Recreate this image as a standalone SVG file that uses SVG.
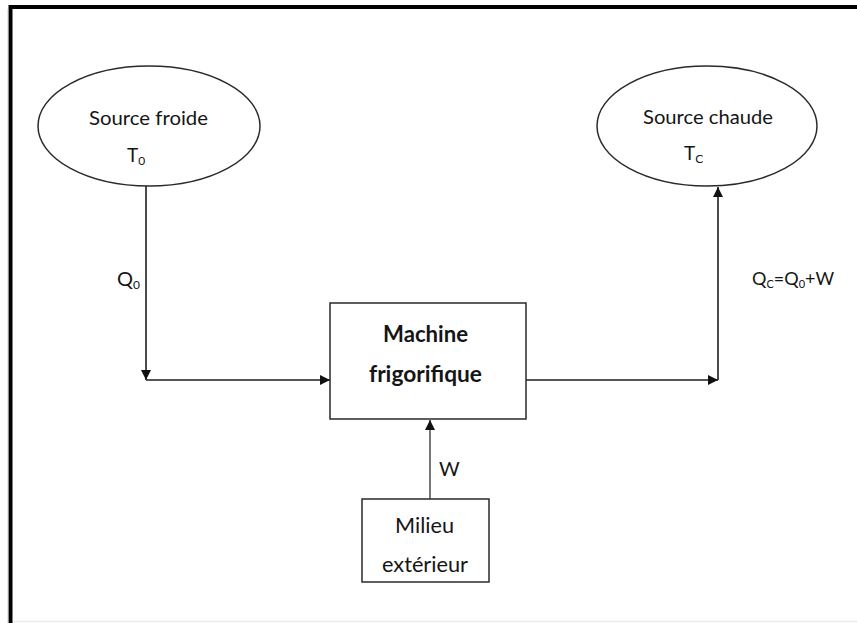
<svg xmlns="http://www.w3.org/2000/svg" width="857" height="623" viewBox="0 0 857 623">
  <defs>
    <style>
      .lbl { font-family: Lato, "Liberation Sans", sans-serif; fill: #151515; }
      .node { fill: #ffffff; stroke: #2a2a2a; stroke-width: 1.5; }
      .wire { fill: none; stroke: #1e1e1e; stroke-width: 1.6; }
      .wire-grey { fill: none; stroke: #777777; stroke-width: 2; }
    </style>
    <marker id="arrow" viewBox="0 0 10 10" refX="10" refY="5" markerWidth="10" markerHeight="10" markerUnits="userSpaceOnUse" orient="auto">
      <path d="M0,0 L10,5 L0,10 Z" fill="#111111"/>
    </marker>
  </defs>

  <rect x="0" y="0" width="857" height="623" fill="#ffffff"/>

  <!-- page frame -->
  <g id="frame">
    <path d="M10.5,623 V7 H857" fill="none" stroke="#000000" stroke-width="4"/>
    <line x1="8.2" y1="9" x2="8.2" y2="623" stroke="#9a9a9a" stroke-width="0.8"/>
    <line x1="13" y1="621.5" x2="857" y2="621.5" stroke="#ececec" stroke-width="1.5"/>
  </g>

  <!-- connectors -->
  <g id="connectors">
    <polyline class="wire" points="146,186 146,380" marker-end="url(#arrow)"/>
    <line class="wire" x1="146" y1="380" x2="330" y2="380" marker-end="url(#arrow)"/>
    <line class="wire" x1="526" y1="380" x2="718" y2="380" marker-end="url(#arrow)"/>
    <line class="wire" x1="718" y1="380" x2="718" y2="187" marker-end="url(#arrow)"/>
    <line class="wire-grey" x1="430" y1="499" x2="430" y2="420" marker-end="url(#arrow)"/>
    <text class="lbl" x="117" y="286" font-size="20">Q<tspan font-size="12" dy="3">0</tspan></text>
    <text class="lbl" x="752" y="285" font-size="18">Q<tspan font-size="11" dy="3">C</tspan><tspan dy="-3">=Q</tspan><tspan font-size="11" dy="3">0</tspan><tspan dy="-3">+W</tspan></text>
    <text class="lbl" x="439" y="476" font-size="20">W</text>
  </g>

  <!-- cold source -->
  <g id="source-froide">
    <ellipse class="node" cx="149" cy="126" rx="111" ry="60"/>
    <text class="lbl" x="89" y="125" font-size="18.5" textLength="119" lengthAdjust="spacingAndGlyphs">Source froide</text>
    <text class="lbl" x="127" y="162" font-size="19">T<tspan font-size="12" dy="3">0</tspan></text>
  </g>

  <!-- hot source -->
  <g id="source-chaude">
    <ellipse class="node" cx="707" cy="126" rx="110" ry="60"/>
    <text class="lbl" x="643" y="124" font-size="18.5" textLength="130" lengthAdjust="spacingAndGlyphs">Source chaude</text>
    <text class="lbl" x="684" y="160" font-size="19">T<tspan font-size="12" dy="3">C</tspan></text>
  </g>

  <!-- refrigerating machine -->
  <g id="machine">
    <rect class="node" x="330" y="303" width="196" height="116"/>
    <text class="lbl" x="383" y="342" font-size="22" font-weight="bold" textLength="85" lengthAdjust="spacingAndGlyphs">Machine</text>
    <text class="lbl" x="369" y="382" font-size="22" font-weight="bold" textLength="113" lengthAdjust="spacingAndGlyphs">frigorifique</text>
  </g>

  <!-- surroundings -->
  <g id="milieu">
    <rect class="node" x="362" y="499" width="127" height="83"/>
    <text class="lbl" x="395" y="533" font-size="21" textLength="59" lengthAdjust="spacingAndGlyphs">Milieu</text>
    <text class="lbl" x="382" y="572" font-size="21" textLength="86" lengthAdjust="spacingAndGlyphs">extérieur</text>
  </g>
</svg>
